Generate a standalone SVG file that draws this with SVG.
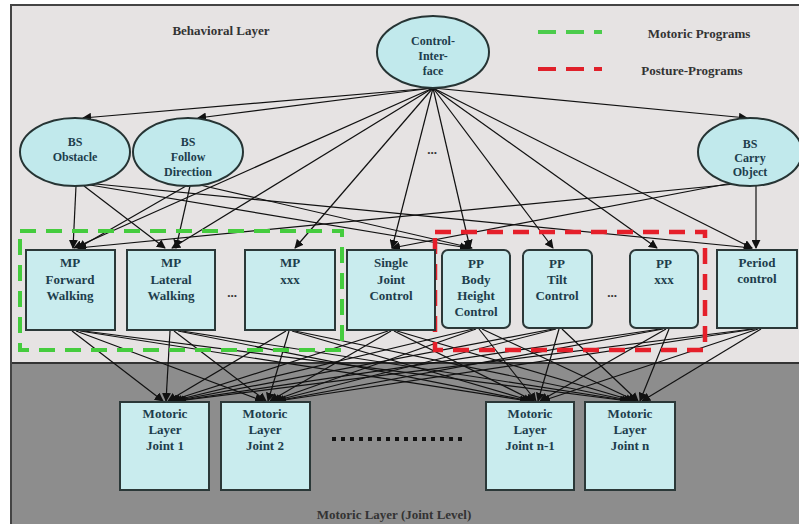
<svg xmlns="http://www.w3.org/2000/svg" width="799" height="524" viewBox="0 0 799 524">
<defs>
<marker id="ah" viewBox="0 0 10 10" refX="9" refY="5" markerWidth="9" markerHeight="9" orient="auto" markerUnits="userSpaceOnUse">
<path d="M0,0 L10,5 L0,10 z" fill="#111"/>
</marker>
<style>
.t{font-family:"Liberation Serif","DejaVu Serif",serif;font-weight:bold;font-size:13px;fill:#1d3d4c;text-anchor:middle}
.ts{font-family:"Liberation Serif","DejaVu Serif",serif;font-weight:bold;font-size:12px;fill:#1d3d4c;text-anchor:middle}
.lbl{font-family:"Liberation Serif","DejaVu Serif",serif;font-weight:bold;font-size:13px;fill:#333;text-anchor:middle}
.box{fill:#c9ecee;stroke:#2b3838;stroke-width:2}
.ell{fill:#c1e9ec;stroke:#263434;stroke-width:2}
.c{stroke:#111;stroke-width:1.2;fill:none;marker-end:url(#ah)}
</style>
</defs>
<rect x="0" y="0" width="799" height="524" fill="#ffffff"/>
<rect x="10" y="5" width="789" height="358" fill="#e6e3e3"/>
<rect x="10" y="363" width="789" height="161" fill="#8d8d8d"/>
<line x1="10" y1="363" x2="799" y2="363" stroke="#333" stroke-width="2"/>
<line x1="10" y1="5" x2="799" y2="5" stroke="#444" stroke-width="2"/>
<line x1="11" y1="5" x2="11" y2="524" stroke="#444" stroke-width="2"/>

<text class="lbl" x="221" y="35">Behavioral Layer</text>
<text class="lbl" x="699" y="38">Motoric Programs</text>
<text class="lbl" x="692" y="75">Posture-Programs</text>
<line x1="538" y1="32" x2="602" y2="32" stroke="#4ccc4c" stroke-width="4" stroke-dasharray="18 10"/>
<line x1="538" y1="69" x2="602" y2="69" stroke="#e0202a" stroke-width="4" stroke-dasharray="18 10"/>
<text class="lbl" x="432" y="154" font-size="11" fill="#666">...</text>
<text class="lbl" x="232" y="297" font-size="11" fill="#777">...</text>
<text class="lbl" x="612" y="297" font-size="11" fill="#777">...</text>
<line x1="332" y1="439" x2="462" y2="439" stroke="#111" stroke-width="4" stroke-dasharray="4 5"/>
<text class="lbl" x="394" y="519" fill="#222">Motoric Layer (Joint Level)</text>

<g id="connectors">
<line class="c" x1="433" y1="88" x2="83" y2="118"/>
<line class="c" x1="433" y1="88" x2="198" y2="118"/>
<line class="c" x1="433" y1="88" x2="747" y2="118"/>
<line class="c" x1="433" y1="88" x2="74" y2="248"/>
<line class="c" x1="433" y1="88" x2="172" y2="248"/>
<line class="c" x1="433" y1="88" x2="295" y2="248"/>
<line class="c" x1="433" y1="88" x2="392" y2="248"/>
<line class="c" x1="433" y1="88" x2="470" y2="248"/>
<line class="c" x1="433" y1="88" x2="553" y2="248"/>
<line class="c" x1="433" y1="88" x2="657" y2="248"/>
<line class="c" x1="433" y1="88" x2="752" y2="248"/>
<line class="c" x1="76" y1="186" x2="73" y2="248"/>
<line class="c" x1="84" y1="186" x2="165" y2="248"/>
<line class="c" x1="90" y1="185" x2="468" y2="248"/>
<line class="c" x1="96" y1="184" x2="752" y2="248"/>
<line class="c" x1="186" y1="186" x2="78" y2="248"/>
<line class="c" x1="190" y1="186" x2="176" y2="248"/>
<line class="c" x1="200" y1="185" x2="472" y2="248"/>
<line class="c" x1="756" y1="186" x2="756" y2="248"/>
<line class="c" x1="735" y1="184" x2="78" y2="248"/>
<line class="c" x1="732" y1="183" x2="392" y2="248"/>

<line class="c" x1="72" y1="331" x2="163" y2="401"/>
<line class="c" x1="76" y1="331" x2="263" y2="401"/>
<line class="c" x1="80" y1="331" x2="528" y2="401"/>
<line class="c" x1="84" y1="331" x2="628" y2="401"/>
<line class="c" x1="170" y1="331" x2="166" y2="401"/>
<line class="c" x1="174" y1="331" x2="266" y2="401"/>
<line class="c" x1="178" y1="331" x2="530" y2="401"/>
<line class="c" x1="182" y1="331" x2="630" y2="401"/>
<line class="c" x1="286" y1="331" x2="168" y2="401"/>
<line class="c" x1="289" y1="331" x2="268" y2="401"/>
<line class="c" x1="292" y1="331" x2="532" y2="401"/>
<line class="c" x1="295" y1="331" x2="632" y2="401"/>
<line class="c" x1="388" y1="331" x2="170" y2="401"/>
<line class="c" x1="391" y1="331" x2="270" y2="401"/>
<line class="c" x1="394" y1="331" x2="534" y2="401"/>
<line class="c" x1="397" y1="331" x2="634" y2="401"/>
<line class="c" x1="473" y1="329" x2="172" y2="401"/>
<line class="c" x1="476" y1="329" x2="272" y2="401"/>
<line class="c" x1="479" y1="329" x2="536" y2="401"/>
<line class="c" x1="482" y1="329" x2="636" y2="401"/>
<line class="c" x1="553" y1="329" x2="174" y2="401"/>
<line class="c" x1="556" y1="329" x2="274" y2="401"/>
<line class="c" x1="559" y1="329" x2="538" y2="401"/>
<line class="c" x1="562" y1="329" x2="638" y2="401"/>
<line class="c" x1="660" y1="329" x2="176" y2="401"/>
<line class="c" x1="663" y1="329" x2="276" y2="401"/>
<line class="c" x1="666" y1="329" x2="540" y2="401"/>
<line class="c" x1="669" y1="329" x2="640" y2="401"/>
<line class="c" x1="752" y1="329" x2="178" y2="401"/>
<line class="c" x1="755" y1="329" x2="278" y2="401"/>
<line class="c" x1="758" y1="329" x2="542" y2="401"/>
<line class="c" x1="761" y1="329" x2="642" y2="401"/>
</g>

<rect x="20" y="231" width="322" height="119" fill="none" stroke="#45cc3e" stroke-width="4" stroke-dasharray="16 10"/>
<rect x="435" y="232" width="270" height="118" fill="none" stroke="#e51f2a" stroke-width="4.5" stroke-dasharray="16 10"/>

<g id="ci"><ellipse class="ell" cx="433" cy="52" rx="56" ry="36"/>
<text class="ts" x="433" y="45">Control-</text><text class="ts" x="433" y="60">Inter-</text><text class="ts" x="433" y="75">face</text></g>
<g id="bs-obstacle"><ellipse class="ell" cx="75" cy="152" rx="55" ry="34"/>
<text class="ts" x="75" y="146">BS</text><text class="ts" x="75" y="161">Obstacle</text></g>
<g id="bs-follow"><ellipse class="ell" cx="188" cy="152" rx="55" ry="34"/>
<text class="ts" x="188" y="146">BS</text><text class="ts" x="188" y="161">Follow</text><text class="ts" x="188" y="176">Direction</text></g>
<g id="bs-carry"><ellipse class="ell" cx="750" cy="152" rx="52" ry="34"/>
<text class="ts" x="750" y="148">BS</text><text class="ts" x="750" y="162">Carry</text><text class="ts" x="750" y="176">Object</text></g>

<g id="mp-forward"><rect class="box" x="26" y="250" width="89" height="80"/>
<text class="t" x="70" y="267">MP</text><text class="t" x="70" y="284">Forward</text><text class="t" x="70" y="300">Walking</text></g>
<g id="mp-lateral"><rect class="box" x="127" y="250" width="88" height="80"/>
<text class="t" x="171" y="267">MP</text><text class="t" x="171" y="284">Lateral</text><text class="t" x="171" y="300">Walking</text></g>
<g id="mp-xxx"><rect class="box" x="245" y="250" width="90" height="80"/>
<text class="t" x="290" y="267">MP</text><text class="t" x="290" y="284">xxx</text></g>
<g id="single-joint"><rect class="box" x="347" y="250" width="88" height="80"/>
<text class="t" x="391" y="267">Single</text><text class="t" x="391" y="284">Joint</text><text class="t" x="391" y="300">Control</text></g>
<g id="pp-body"><rect class="box" x="442" y="250" width="68" height="78" rx="6"/>
<text class="t" x="476" y="268">PP</text><text class="t" x="476" y="284">Body</text><text class="t" x="476" y="300">Height</text><text class="t" x="476" y="316">Control</text></g>
<g id="pp-tilt"><rect class="box" x="523" y="250" width="69" height="78" rx="6"/>
<text class="t" x="557" y="268">PP</text><text class="t" x="557" y="284">Tilt</text><text class="t" x="557" y="300">Control</text></g>
<g id="pp-xxx"><rect class="box" x="630" y="250" width="68" height="78" rx="6"/>
<text class="t" x="664" y="268">PP</text><text class="t" x="664" y="284">xxx</text></g>
<g id="period"><rect class="box" x="717" y="250" width="80" height="78"/>
<text class="t" x="757" y="267">Period</text><text class="t" x="757" y="283">control</text></g>

<g id="joint-1"><rect class="box" x="120" y="402" width="89" height="88"/>
<text class="t" x="165" y="418">Motoric</text><text class="t" x="165" y="434">Layer</text><text class="t" x="165" y="450">Joint 1</text></g>
<g id="joint-2"><rect class="box" x="221" y="402" width="89" height="88"/>
<text class="t" x="265" y="418">Motoric</text><text class="t" x="265" y="434">Layer</text><text class="t" x="265" y="450">Joint 2</text></g>
<g id="joint-n1"><rect class="box" x="486" y="402" width="88" height="88"/>
<text class="t" x="530" y="418">Motoric</text><text class="t" x="530" y="434">Layer</text><text class="t" x="530" y="450">Joint n-1</text></g>
<g id="joint-n"><rect class="box" x="585" y="402" width="90" height="88"/>
<text class="t" x="630" y="418">Motoric</text><text class="t" x="630" y="434">Layer</text><text class="t" x="630" y="450">Joint n</text></g>
</svg>
